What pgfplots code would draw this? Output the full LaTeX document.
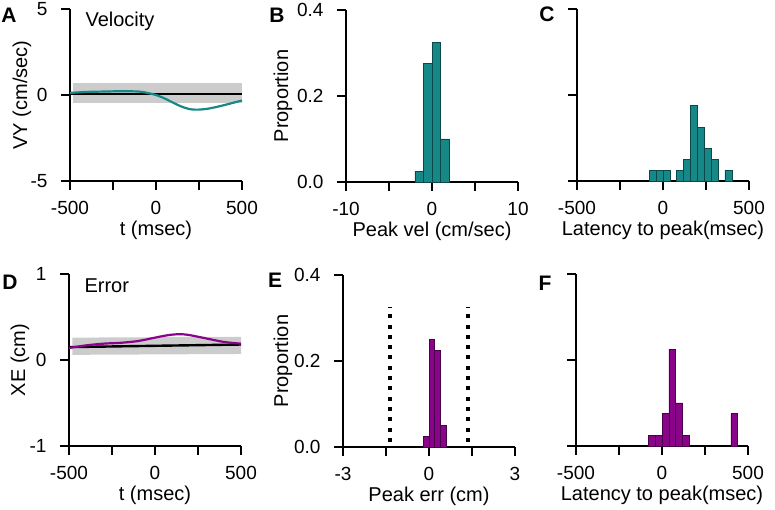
\documentclass[border=0pt]{standalone}
\usepackage{fontspec}
\setmainfont{Liberation Sans}
\usepackage{pgfplots}
\pgfplotsset{compat=1.18}

\definecolor{tealc}{RGB}{22,136,136}
\definecolor{tealdark}{RGB}{12,72,72}
\definecolor{purp}{RGB}{138,4,138}
\definecolor{purpdark}{RGB}{72,0,72}
\definecolor{band}{RGB}{204,204,204}

\pgfplotsset{
  panel/.style={
    width=172pt, height=172pt, scale only axis,
    anchor=south west,
    axis x line*=bottom, axis y line*=left,
    axis line style={line width=2pt},
    tick align=outside, major tick length=9pt,
    tick style={line width=2.2pt, black},
    tick label style={font=\fontsize{19}{22}\selectfont},
    xticklabel style={anchor=center, yshift=-18pt},
    yticklabel style={anchor=east, xshift=-10pt},
    every axis x label/.style={at={(axis description cs:0.5,0)},
      anchor=center, yshift=-49pt, font=\fontsize{20}{24}\selectfont},
    clip=false,
  },
  ylab/.style={every axis y label/.style={at={(axis description cs:0,0.5)},
    rotate=90, anchor=center, yshift=#1, font=\fontsize{20}{24}\selectfont}},
  timeax/.style={xmin=-500, xmax=500, xtick={-500,-250,0,250,500},
    xticklabels={-500,,0,,500}},
  hist/.style={ybar, bar shift=0pt, line width=0.6pt},
  dots/.style={black, line width=4pt, dash pattern=on 4pt off 6.3pt},
}

\begin{document}
\begin{tikzpicture}
\useasboundingbox (0,0) rectangle (775pt,510pt);

% A: velocity trace
\begin{axis}[panel, timeax, at={(70pt,329pt)}, ylab=48pt,
  ymin=-5, ymax=5, ytick={-5,0,5}, yticklabels={-5,0,5},
  xlabel={t (msec)}, ylabel={VY (cm/sec)}]
\addplot[fill=band, draw=none] coordinates {
(-480,0.68) (500,0.68) (500,-0.44) (-480,-0.44)};
\addplot[black, line width=2.4pt] coordinates {(-500,0.05) (500,0.05)};
\addplot[tealc, line width=2.2pt, smooth] coordinates {
(-500,0.12) (-400,0.18) (-300,0.2) (-200,0.22) (-100,0.2) (-50,0.12)
(0,0) (50,-0.2) (100,-0.45) (150,-0.68) (200,-0.83) (250,-0.85)
(300,-0.8) (350,-0.7) (400,-0.58) (450,-0.45) (500,-0.32)};
\node[anchor=west, font=\fontsize{20}{24}\selectfont] at (axis cs:-430,4.3) {Velocity};
\end{axis}

% B: peak velocity histogram
\begin{axis}[panel, at={(346pt,328pt)}, ylab=63pt,
  xmin=-10, xmax=10, xtick={-10,-5,0,5,10}, xticklabels={-10,,0,,10},
  ymin=0, ymax=0.4, ytick={0,0.2,0.4}, yticklabels={0.0,0.2,0.4},
  xlabel={Peak vel (cm/sec)}, ylabel={Proportion}]
\addplot[hist, bar width=1, fill=tealc, draw=tealdark] coordinates {
(-1.5,0.025) (-0.5,0.275) (0.5,0.325) (1.5,0.1)};
\end{axis}

% C: latency histogram
\begin{axis}[panel, timeax, at={(577pt,329pt)},
  ymin=0, ymax=0.4, ytick={0,0.2,0.4}, yticklabels={},
  xlabel={Latency to peak(msec)}]
\addplot[hist, bar width=40, fill=tealc, draw=tealdark] coordinates {
(-60,0.025) (-20,0.025) (20,0.025) (100,0.025) (140,0.05) (180,0.175)
(220,0.125) (260,0.075) (300,0.05) (380,0.025)};
\end{axis}

% D: error trace
\begin{axis}[panel, timeax, at={(69pt,64pt)}, ylab=49pt,
  ymin=-1, ymax=1, ytick={-1,0,1}, yticklabels={-1,0,1},
  xlabel={t (msec)}, ylabel={XE (cm)}]
\addplot[fill=band, draw=none] coordinates {
(-480,0.26) (500,0.27) (500,0.07) (-480,0.06)};
\addplot[black, line width=2.4pt] coordinates {(-500,0.15) (500,0.18)};
\addplot[purp, line width=2.2pt, smooth] coordinates {
(-500,0.14) (-400,0.17) (-300,0.19) (-200,0.2) (-100,0.22) (0,0.26)
(50,0.28) (100,0.295) (150,0.3) (200,0.29) (300,0.25) (400,0.21) (500,0.19)};
\node[anchor=west, font=\fontsize{20}{24}\selectfont] at (axis cs:-430,0.86) {Error};
\end{axis}

% E: peak error histogram
\begin{axis}[panel, at={(343pt,63pt)}, ylab=60pt,
  xmin=-3, xmax=3, xtick={-3,-1.5,0,1.5,3}, xticklabels={-3,,0,,3},
  ymin=0, ymax=0.4, ytick={0,0.2,0.4}, yticklabels={0.0,0.2,0.4},
  xlabel={Peak err (cm)}, ylabel={Proportion}]
\addplot[hist, bar width=0.2, fill=purp, draw=purpdark] coordinates {
(-0.1,0.025) (0.1,0.25) (0.3,0.225) (0.5,0.05)};
\addplot[dots] coordinates {(-1.36,0.012) (-1.36,0.325)};
\addplot[dots] coordinates {(1.36,0.012) (1.36,0.325)};
\end{axis}

% F: latency histogram
\begin{axis}[panel, timeax, at={(576pt,64pt)},
  ymin=0, ymax=0.4, ytick={0,0.2,0.4}, yticklabels={},
  xlabel={Latency to peak(msec)}]
\addplot[hist, bar width=40, fill=purp, draw=purpdark] coordinates {
(-60,0.025) (-20,0.025) (20,0.075) (60,0.225) (100,0.1) (140,0.025) (420,0.075)};
\end{axis}

\begin{scope}[font=\bfseries\fontsize{21}{24}\selectfont]
\node at (9pt,495pt) {A};
\node at (277pt,495pt) {B};
\node at (547pt,496pt) {C};
\node at (10pt,228pt) {D};
\node at (275pt,230pt) {E};
\node at (545pt,227pt) {F};
\end{scope}
\end{tikzpicture}
\end{document}
